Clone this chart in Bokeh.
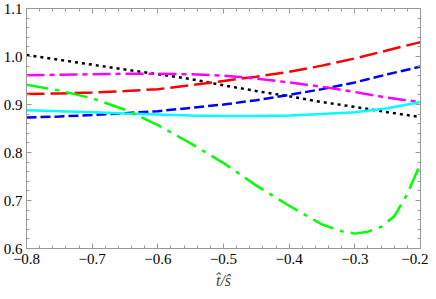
from bokeh.plotting import figure
from bokeh.models import (Range1d, SingleIntervalTicker, LinearAxis,
                          CustomJSTickFormatter)
from bokeh.embed import file_html
from bokeh.resources import INLINE

# ---- data ----
x = [-0.8, -0.75, -0.7, -0.65, -0.6, -0.55, -0.5, -0.45, -0.4, -0.35, -0.3, -0.25, -0.2]
black = [1.003, 0.993, 0.983, 0.973, 0.963, 0.953, 0.940, 0.928, 0.917, 0.905, 0.895, 0.884, 0.874]
red = [0.922, 0.923, 0.925, 0.928, 0.932, 0.940, 0.949, 0.958, 0.968, 0.981, 0.996, 1.013, 1.030]
blue = [0.873, 0.875, 0.878, 0.882, 0.886, 0.893, 0.900, 0.909, 0.920, 0.932, 0.946, 0.963, 0.979]
magenta = [0.961, 0.962, 0.963, 0.964, 0.964, 0.963, 0.960, 0.954, 0.946, 0.937, 0.926, 0.914, 0.905]
cyan = [0.888, 0.886, 0.884, 0.881, 0.879, 0.877, 0.876, 0.876, 0.877, 0.880, 0.884, 0.892, 0.905]
green_x = [-0.8, -0.75, -0.7, -0.65, -0.6, -0.55, -0.5, -0.45, -0.4, -0.35, -0.32, -0.3,
           -0.28, -0.26, -0.24, -0.22, -0.2]
green = [0.941, 0.929, 0.913, 0.889, 0.857, 0.819, 0.778, 0.731, 0.689, 0.650, 0.636, 0.631,
         0.635, 0.645, 0.667, 0.714, 0.777]

x_label = "t\u0302/s\u0302"

FRAME = "#9a9a9a"
FONT = "Liberation Serif, Times New Roman, serif"

p = figure(width=428, height=291, output_backend="svg", toolbar_location=None,
           x_range=Range1d(-0.8, -0.2), y_range=Range1d(0.6, 1.1),
           min_border_top=8, min_border_right=8, min_border_left=0, min_border_bottom=0,
           x_axis_label=x_label)
p.grid.visible = False
p.outline_line_color = FRAME
p.background_fill_color = "white"

fmt = CustomJSTickFormatter(code="return tick.toFixed(1).replace('-', '\\u2212');")
blank = CustomJSTickFormatter(code="return '';")


def style_axis(ax, labels=True):
    ax.axis_line_color = FRAME
    ax.major_tick_line_color = FRAME
    ax.minor_tick_line_color = FRAME
    ax.major_tick_in = 5
    ax.major_tick_out = 0
    ax.minor_tick_in = 3
    ax.minor_tick_out = 0
    ax.major_label_text_font = FONT
    ax.major_label_text_font_size = "15px"
    ax.major_label_text_color = "black"
    ax.formatter = fmt if labels else blank
    ax.major_label_standoff = 4 if labels else 0


p.xaxis.ticker = SingleIntervalTicker(interval=0.1, num_minor_ticks=5)
p.yaxis.ticker = SingleIntervalTicker(interval=0.1, num_minor_ticks=5)
style_axis(p.xaxis[0])
style_axis(p.yaxis[0])
p.xaxis.major_label_standoff = 5
p.xaxis.axis_label_text_font = FONT
p.xaxis.axis_label_text_font_style = "italic"
p.xaxis.axis_label_text_font_size = "16px"
p.xaxis.axis_label_standoff = 5

top = LinearAxis(ticker=SingleIntervalTicker(interval=0.1, num_minor_ticks=5))
style_axis(top, labels=False)
p.add_layout(top, "above")
right = LinearAxis(ticker=SingleIntervalTicker(interval=0.1, num_minor_ticks=5))
style_axis(right, labels=False)
p.add_layout(right, "right")

LW = 2.5
p.line(x, black, line_color="black", line_width=LW, line_dash="3 4")
p.line(x, red, line_color="#ff0000", line_width=LW, line_dash="18 6")
p.line(x, blue, line_color="#0000ff", line_width=LW, line_dash="10 4")
p.line(x, magenta, line_color="#ff00ff", line_width=LW, line_dash="18 5 5 5")
p.line(x, cyan, line_color="#00ffff", line_width=LW)
p.line(green_x, green, line_color="#00ff00", line_width=LW, line_dash="22 7 4 7")

open("out.html", "w").write(file_html(p, INLINE))
